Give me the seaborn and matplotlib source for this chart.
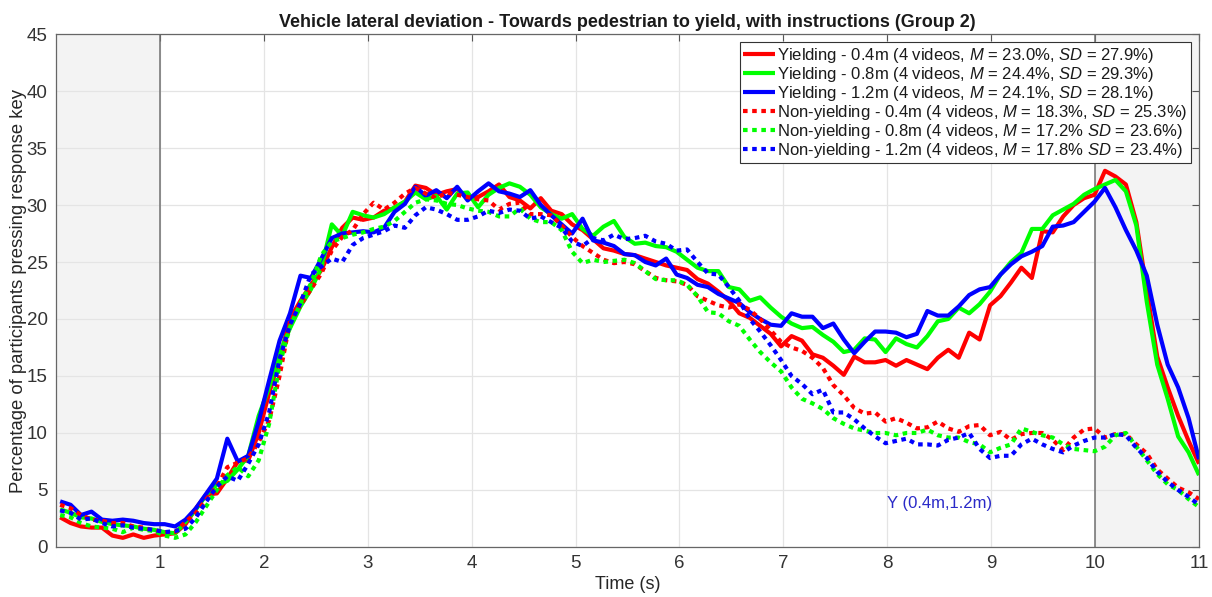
import numpy as np
import pandas as pd
import matplotlib
matplotlib.use("Agg")
import matplotlib.pyplot as plt
import seaborn as sns

# Sampling grid (s)
time = np.linspace(0.04, 11.0, 110)

# Yielding conditions (% of participants pressing the key)
yield_04 = [
    2.6, 2.1, 1.8, 1.7, 1.7, 1.0, 0.8, 1.1, 0.8, 1.0,
    1.1, 1.2, 2.0, 3.4, 4.6, 4.7, 6.0, 7.5, 7.6, 10.0,
    13.5, 16.5, 20.0, 21.6, 23.0, 24.3, 26.3, 28.0, 28.9, 28.7,
    28.9, 29.5, 29.7, 30.3, 31.7, 31.5, 30.9, 31.2, 31.4, 30.6,
    30.7, 31.2, 31.8, 30.7, 30.4, 29.7, 30.6, 29.5, 29.2, 28.3,
    27.8, 27.0, 26.2, 26.0, 25.7, 25.6, 25.3, 25.0, 24.7, 24.5,
    24.3, 23.5, 23.1, 22.4, 21.6, 20.5, 20.1, 19.4, 18.7, 17.6,
    18.5, 18.1, 16.9, 16.6, 15.9, 15.1, 16.7, 16.2, 16.2, 16.4,
    15.9, 16.4, 16.0, 15.6, 16.6, 17.3, 16.6, 18.8, 18.2, 21.2,
    22.0, 23.2, 24.5, 23.6, 27.7, 27.6, 29.0, 30.0, 30.6, 30.9,
    33.0, 32.5, 31.8, 28.5, 22.5, 16.7, 14.0, 11.5, 9.3, 7.3,
]
yield_08 = [
    3.3, 3.0, 2.6, 2.5, 2.2, 2.0, 1.9, 1.8, 1.6, 1.5,
    1.3, 1.2, 2.2, 3.3, 4.6, 5.5, 5.8, 6.8, 8.0, 11.5,
    14.0, 17.0, 19.2, 21.1, 22.6, 24.5, 28.3, 27.3, 29.4, 29.1,
    28.9, 29.2, 29.8, 30.3, 31.1, 30.5, 30.8, 29.6, 31.0, 31.1,
    29.8, 30.9, 31.5, 31.9, 31.6, 30.9, 29.8, 29.2, 28.8, 29.2,
    27.9, 27.3, 28.1, 28.6, 27.2, 26.6, 26.7, 26.4, 26.3, 25.9,
    25.2, 24.5, 24.2, 24.2, 22.8, 22.6, 21.6, 21.9, 21.0, 20.2,
    19.6, 19.2, 19.3, 18.6, 18.0, 17.1, 17.3, 18.3, 18.2, 17.1,
    18.3, 17.8, 17.5, 18.5, 19.8, 20.0, 21.0, 20.5, 21.3, 22.4,
    23.9, 25.0, 25.8, 27.9, 27.9, 29.1, 29.6, 30.1, 30.9, 31.4,
    31.8, 32.2, 31.2, 28.2, 21.5, 16.0, 13.0, 9.7, 8.3, 6.3,
]
yield_12 = [
    4.0, 3.7, 2.8, 3.1, 2.4, 2.3, 2.4, 2.3, 2.1, 2.0,
    2.0, 1.8, 2.4, 3.4, 4.7, 6.0, 9.5, 7.5, 8.0, 11.0,
    14.6, 18.1, 20.5, 23.8, 23.6, 25.3, 27.1, 27.5, 27.6, 27.7,
    27.6, 28.0, 29.4, 30.1, 31.6, 30.8, 31.3, 30.6, 31.6, 30.4,
    31.2, 31.9, 31.2, 31.0, 30.7, 31.3, 30.0, 29.1, 28.3, 27.5,
    28.8, 26.9, 26.7, 26.4, 25.7, 25.6, 25.0, 24.7, 25.3, 23.9,
    23.6, 23.0, 22.8, 22.2, 21.8, 21.4, 20.6, 20.0, 19.5, 19.4,
    20.5, 20.2, 20.2, 19.2, 19.6, 18.2, 17.0, 18.0, 18.9, 18.9,
    18.8, 18.4, 18.7, 20.7, 20.3, 20.3, 21.1, 22.1, 22.6, 22.8,
    23.9, 24.8, 25.5, 25.9, 26.4, 28.1, 28.2, 28.5, 29.4, 30.3,
    31.5, 29.8, 27.8, 26.0, 23.8, 19.5, 16.0, 14.0, 11.3, 7.7,
]

# Non-yielding conditions
nonyield_04 = [
    3.7, 3.4, 2.8, 2.4, 2.3, 2.1, 2.1, 1.8, 1.7, 1.4,
    1.3, 1.3, 2.2, 3.0, 4.2, 5.3, 7.0, 7.4, 7.8, 9.2,
    11.1, 15.0, 19.8, 21.2, 22.6, 24.0, 26.0, 27.2, 27.8, 29.2,
    30.2, 29.6, 30.2, 31.0, 31.5, 31.0, 30.6, 31.1, 30.9, 30.7,
    30.5, 30.4, 29.6, 30.1, 30.2, 29.2, 29.2, 29.1, 28.2, 27.2,
    26.4, 25.8, 25.2, 24.9, 25.0, 24.8, 24.2, 23.6, 23.4, 23.3,
    23.0, 22.0, 21.6, 21.2, 21.0, 21.3, 20.8, 20.0, 19.0, 18.0,
    17.5, 17.2, 16.6, 15.7, 14.2, 13.3, 12.2, 11.7, 11.8, 11.0,
    11.3, 10.9, 10.4, 10.5, 11.0, 10.4, 10.1, 10.6, 10.7, 9.8,
    10.1, 9.4, 9.9, 10.0, 10.0, 9.4, 8.5, 9.6, 10.3, 10.4,
    9.6, 9.9, 9.9, 9.0, 8.2, 6.8, 6.0, 5.2, 4.8, 4.2,
]
nonyield_08 = [
    2.8, 2.6, 2.1, 1.8, 1.7, 1.6, 1.3, 1.7, 1.5, 1.4,
    1.0, 0.8, 1.1, 2.2, 3.6, 5.0, 6.3, 7.0, 6.2, 7.6,
    10.8, 16.0, 19.3, 21.4, 23.1, 25.6, 26.8, 27.1, 27.4, 27.6,
    27.9, 28.1, 28.6, 29.4, 30.2, 30.5, 30.4, 30.1, 30.0, 29.7,
    29.5, 29.4, 29.0, 29.0, 29.7, 28.8, 28.5, 28.5, 27.8, 25.9,
    24.9, 25.2, 25.0, 25.1, 25.2, 24.9, 24.2, 23.5, 23.4, 23.4,
    23.0, 22.0, 20.6, 20.5, 19.8, 19.4, 18.2, 17.1, 16.2, 15.4,
    14.0, 13.0, 12.6, 12.1, 11.3, 10.8, 10.4, 10.2, 10.0, 10.0,
    9.8, 10.0, 10.0, 10.3, 9.8, 9.6, 9.6, 9.2, 9.0, 8.3,
    8.7, 9.0, 10.4, 10.1, 9.8, 9.6, 9.0, 8.6, 8.5, 8.4,
    8.8, 9.8, 10.0, 8.8, 7.6, 6.4, 5.5, 5.0, 4.2, 3.5,
]
nonyield_12 = [
    3.2, 3.0, 2.4, 2.5, 2.1, 1.8, 1.9, 1.7, 1.6, 1.5,
    1.3, 1.4, 1.6, 2.6, 4.0, 5.3, 6.2, 5.8, 7.3, 9.0,
    11.8, 16.5, 19.5, 21.4, 23.9, 24.6, 25.3, 25.0, 26.5, 27.1,
    27.4, 27.7, 28.2, 28.0, 29.1, 29.8, 29.6, 29.2, 28.7, 28.7,
    29.0, 29.5, 29.3, 29.6, 29.5, 28.8, 29.0, 28.5, 28.0, 26.8,
    26.4, 27.1, 26.9, 27.4, 27.0, 27.1, 27.3, 26.8, 26.6, 26.0,
    26.1, 25.0, 24.0, 23.9, 22.8, 21.6, 20.0, 18.9, 17.7, 16.4,
    15.0, 14.3, 13.4, 13.8, 11.8, 11.8, 11.2, 10.4, 9.7, 9.1,
    9.3, 9.5, 9.0, 9.0, 8.9, 9.4, 9.6, 10.0, 8.6, 7.8,
    8.0, 8.0, 9.0, 9.5, 9.0, 8.6, 8.3, 8.9, 9.3, 9.6,
    9.6, 9.9, 9.8, 8.7, 7.8, 6.6, 5.7, 5.0, 4.4, 3.7,
]

labels = [
    r"Yielding - 0.4m (4 videos, $\mathit{M}$ = 23.0%, $\mathit{SD}$ = 27.9%)",
    r"Yielding - 0.8m (4 videos, $\mathit{M}$ = 24.4%, $\mathit{SD}$ = 29.3%)",
    r"Yielding - 1.2m (4 videos, $\mathit{M}$ = 24.1%, $\mathit{SD}$ = 28.1%)",
    r"Non-yielding - 0.4m (4 videos, $\mathit{M}$ = 18.3%, $\mathit{SD}$ = 25.3%)",
    r"Non-yielding - 0.8m (4 videos, $\mathit{M}$ = 17.2% $\mathit{SD}$ = 23.6%)",
    r"Non-yielding - 1.2m (4 videos, $\mathit{M}$ = 17.8% $\mathit{SD}$ = 23.4%)",
]
series = [yield_04, yield_08, yield_12, nonyield_04, nonyield_08, nonyield_12]
colors = ["#ff0000", "#00ff00", "#0000ff", "#ff0000", "#00ff00", "#0000ff"]
solid = [True, True, True, False, False, False]

x_ticks = list(range(1, 12))
y_ticks = list(range(0, 50, 5))

sns.set_style("white")
plt.rcParams["font.family"] = ["Liberation Sans", "DejaVu Sans"]
plt.rcParams["mathtext.fontset"] = "custom"
plt.rcParams["mathtext.rm"] = "Liberation Sans"
plt.rcParams["mathtext.it"] = "Liberation Sans:italic"

fig = plt.figure(figsize=(12.12, 5.97), dpi=100)
ax = fig.add_axes([0.0462, 0.0838, 0.9431, 0.8592])

# Shaded intervals at start and end
for x0, x1 in [(0, 1), (10, 11)]:
    ax.axvspan(x0, x1, color="#f3f3f3", zorder=0.2, lw=0)
for xe in (1, 10):
    ax.axvline(xe, color="#707070", lw=1.1, zorder=0.8)

for vals, lab, col, is_solid in zip(series, labels, colors, solid):
    df = pd.DataFrame({"t": time, "pct": vals})
    if is_solid:
        sns.lineplot(data=df, x="t", y="pct", color=col, lw=3.0, ax=ax,
                     label=lab, solid_capstyle="butt")
    else:
        sns.lineplot(data=df, x="t", y="pct", color=col, lw=3.0, ax=ax,
                     label=lab, linestyle=(0, (1.1, 1.1)), dash_capstyle="butt")

ax.text(8.0, 3.8, "Y (0.4m,1.2m)", color="#2a2ac8", fontsize=12,
        va="center", ha="left")

ax.set_xlim(0, 11)
ax.set_ylim(0, 45)
ax.set_xticks(x_ticks)
ax.set_yticks(y_ticks)
ax.set_axisbelow(True)
ax.grid(True, color="#e4e4e4", lw=0.9)
ax.tick_params(direction="in", length=5, width=0.8, colors="#555555",
               labelcolor="#333333", labelsize=13.5, top=True, right=True,
               pad=6)
for sp in ax.spines.values():
    sp.set_color("#666666")
    sp.set_linewidth(0.9)

ax.set_xlabel("Time (s)", fontsize=13, color="#262626", labelpad=3)
ax.set_ylabel("Percentage of participants pressing response key",
              fontsize=13.3, color="#262626", labelpad=0)
ax.set_title("Vehicle lateral deviation - Towards pedestrian to yield, with instructions (Group 2)",
             fontsize=13, fontweight="bold", color="#1a1a1a", pad=5)

leg = ax.legend(loc="upper right", fontsize=12, frameon=True, fancybox=False,
                framealpha=1, edgecolor="#333333", handlelength=1.9,
                handletextpad=0.15, labelspacing=0.0, borderpad=0.2,
                borderaxespad=0.5)
leg.get_frame().set_linewidth(0.8)
for t in leg.get_texts():
    t.set_color("#1a1a1a")

fig.savefig("out.png", dpi=100)
